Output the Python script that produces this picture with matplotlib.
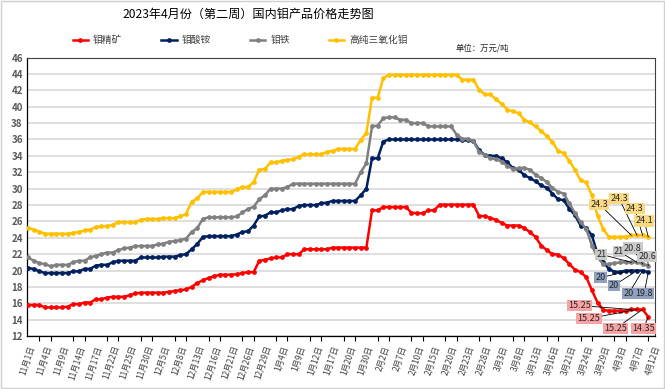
import matplotlib
matplotlib.use("Agg")
import matplotlib.pyplot as plt
from matplotlib.patches import Rectangle

plt.rcParams['font.family'] = ['Noto Sans CJK SC', 'DejaVu Sans']

title = '2023年4月份（第二周）国内钼产品价格走势图'

tick_labels = ['11月1日', '11月4日', '11月9日', '11月14日', '11月17日', '11月22日',
               '11月25日', '11月30日', '12月5日', '12月8日', '12月13日', '12月16日',
               '12月21日', '12月26日', '12月29日', '1月4日', '1月9日', '1月12日',
               '1月17日', '1月20日', '1月30日', '2月2日', '2月7日', '2月10日',
               '2月15日', '2月20日', '2月23日', '2月28日', '3月3日', '3月8日',
               '3月13日', '3月16日', '3月21日', '3月24日', '3月29日', '4月3日',
               '4月7日', '4月12日']

# 钼精矿
ore = [15.8, 15.8, 15.8, 15.5, 15.5, 15.5, 15.5, 15.6, 15.9, 15.9,
       16.1, 16.1, 16.5, 16.5, 16.7, 16.8, 16.8, 16.8, 17.0, 17.2,
       17.3, 17.3, 17.3, 17.3, 17.3, 17.4, 17.5, 17.6, 17.7, 18.0,
       18.5, 18.8, 19.1, 19.3, 19.5, 19.5, 19.5, 19.55, 19.7, 19.8,
       19.8, 21.2, 21.3, 21.5, 21.6, 21.6, 22.0, 22.0, 22.0, 22.6,
       22.6, 22.6, 22.6, 22.6, 22.8, 22.8, 22.8, 22.8, 22.8, 22.8,
       22.8, 27.35, 27.35, 27.75, 27.75, 27.75, 27.75, 27.75, 27.05, 27.0,
       27.0, 27.35, 27.35, 28.05, 28.05, 28.05, 28.05, 28.05, 28.05, 28.05,
       26.65, 26.65, 26.4, 26.2, 25.8, 25.5, 25.5, 25.5, 25.2, 24.7,
       24.1, 23.05, 22.5, 22.0, 21.95, 21.5, 20.8, 20.1, 19.8, 19.2,
       17.6, 16.1, 15.2, 15.1, 15.1, 15.1, 15.1, 15.25, 15.25, 15.25, 14.35]

# 钼酸铵
ammonium = [20.3, 20.2, 19.9, 19.7, 19.7, 19.7, 19.7, 19.7, 19.9, 19.9,
            20.2, 20.2, 20.6, 20.7, 20.7, 21.0, 21.2, 21.2, 21.2, 21.2,
            21.6, 21.6, 21.6, 21.6, 21.7, 21.7, 21.7, 21.9, 22.0, 22.6,
            23.25, 24.1, 24.2, 24.2, 24.2, 24.2, 24.2, 24.4, 24.7, 24.8,
            25.5, 26.6, 26.7, 27.1, 27.1, 27.35, 27.5, 27.5, 27.9, 28.0,
            28.0, 28.0, 28.2, 28.3, 28.5, 28.5, 28.5, 28.5, 28.5, 29.2,
            30.0, 33.7, 33.7, 35.75, 36.0, 36.0, 36.0, 36.0, 36.0, 36.0,
            36.0, 36.0, 36.0, 36.0, 36.0, 36.0, 36.0, 35.9, 35.9, 35.8,
            34.7, 34.1, 34.0, 34.0, 33.7, 33.2, 32.5, 32.3, 31.65, 31.3,
            30.9, 30.4, 30.1, 29.4, 28.7, 28.6, 27.55, 26.75, 25.5, 25.2,
            24.3, 22.0, 21.1, 20.2, 19.85, 19.85, 20.0, 20.0, 20.0, 20.0, 19.8]

# 钼铁
ferro = [21.6, 21.2, 20.9, 20.8, 20.5, 20.7, 20.7, 20.7, 21.0, 21.2,
         21.2, 21.6, 21.8, 22.0, 22.2, 22.2, 22.5, 22.7, 22.8, 23.0,
         23.0, 23.0, 23.0, 23.2, 23.3, 23.5, 23.6, 23.7, 23.9, 24.7,
         25.2, 26.3, 26.5, 26.5, 26.5, 26.5, 26.5, 26.6, 27.1, 27.5,
         27.8, 28.7, 29.2, 30.0, 30.0, 30.0, 30.2, 30.6, 30.6, 30.6,
         30.6, 30.6, 30.6, 30.6, 30.6, 30.6, 30.6, 30.6, 30.6, 32.0,
         33.1, 37.6, 37.7, 38.6, 38.7, 38.7, 38.4, 38.4, 38.0, 38.0,
         38.0, 37.6, 37.6, 37.6, 37.6, 37.6, 36.6, 36.1, 36.1, 35.8,
         34.5, 34.1, 33.7, 33.6, 33.3, 32.8, 32.4, 32.5, 32.55, 32.3,
         31.7, 31.3, 30.8, 30.1, 29.6, 29.4, 28.2, 27.0, 25.9, 25.1,
         23.05, 21.6, 20.8, 20.8, 20.9, 21.0, 21.0, 21.0, 21.0, 20.8, 20.6]

# 高纯三氧化钼
oxide = [25.2, 25.0, 24.75, 24.5, 24.5, 24.5, 24.5, 24.5, 24.6, 24.7,
         24.9, 25.0, 25.3, 25.4, 25.4, 25.6, 25.9, 25.9, 25.9, 25.9,
         26.2, 26.3, 26.3, 26.3, 26.4, 26.4, 26.4, 26.6, 26.9, 28.4,
         28.8, 29.6, 29.6, 29.6, 29.6, 29.6, 29.6, 29.9, 30.2, 30.2,
         30.8, 32.3, 32.4, 33.2, 33.2, 33.4, 33.5, 33.6, 33.9, 34.2,
         34.2, 34.2, 34.2, 34.5, 34.6, 34.85, 34.85, 34.85, 34.85, 35.95,
         36.8, 41.1, 41.1, 43.5, 43.9, 43.9, 43.9, 43.9, 43.9, 43.9,
         43.9, 43.9, 43.9, 43.9, 43.9, 43.9, 43.9, 43.3, 43.3, 43.3,
         42.1, 41.5, 41.5, 40.9, 40.35, 39.65, 39.45, 39.2, 38.4, 38.1,
         37.6, 37.05, 36.4, 35.7, 34.6, 34.3, 33.4, 32.3, 31.0, 30.75,
         29.2, 26.7, 25.1, 24.1, 24.1, 24.1, 24.15, 24.3, 24.3, 24.3, 24.1]

series = [
    ('钼精矿', ore, '#FF0000', '#F7A3A3'),
    ('钼酸铵', ammonium, '#002060', '#8FA0C0'),
    ('钼铁', ferro, '#808080', '#CACACA'),
    ('高纯三氧化钼', oxide, '#FFC000', '#FAD983'),
]

# label offsets (pixels) for the last four points of each line
label_offsets = {
    '钼精矿': [(-52, 4), (-48, -9), (-27, -19), (-5, -12)],
    '钼酸铵': [(-31, -7), (-23, -15), (-14, -23), (-4, -21)],
    '钼铁': [(-30, 8), (-18, 11), (-10, 16), (-1, 9)],
    '高纯三氧化钼': [(-32, 31), (-18, 37), (-8, 27), (-4, 16)],
}

fig = plt.figure(figsize=(6.65, 3.89), dpi=100)
fig.patches.append(Rectangle((0.002, 0.003), 0.996, 0.994, transform=fig.transFigure,
                             fill=False, edgecolor='#D0D0D0', lw=1))
ax = fig.add_axes([0.0406, 0.136, 0.9444, 0.716])

for name, vals, col, boxcol in series:
    xs = list(range(len(vals)))
    ax.plot(xs, vals, color=col, lw=1.8, marker='o', ms=2.4, label=name, zorder=3)
    n = len(vals)
    for k, (dx, dy) in enumerate(label_offsets[name]):
        i = n - 4 + k
        ax.annotate(f'{vals[i]:g}', xy=(i, vals[i]), xytext=(dx, dy),
                    textcoords='offset pixels', ha='center', va='center',
                    fontsize=6.5, color='#262626', zorder=5,
                    bbox=dict(boxstyle='square,pad=0.12', fc=boxcol, ec='none'),
                    arrowprops=dict(arrowstyle='-', color='black', lw=0.6,
                                    shrinkA=0, shrinkB=0))

ax.set_xlim(-0.2, 111.2)
ax.set_ylim(12, 46)
ax.set_yticks(range(12, 47, 2))
ax.grid(axis='y', color='#D9D9D9', lw=1.2)
ax.set_axisbelow(True)
ax.tick_params(axis='y', length=0, labelsize=7, labelcolor='#595959', pad=3)
for t in ax.get_yticklabels():
    t.set_fontweight('bold')

ax.set_xticks(range(0, 112, 3))
ax.set_xticklabels(tick_labels, rotation=72, ha='right', va='top',
                   rotation_mode='anchor', fontsize=6, color='#404040')
ax.set_xticks(range(0, 112, 2), minor=True)
ax.tick_params(axis='x', which='major', length=0, pad=6)
ax.tick_params(axis='x', which='minor', length=3.5, width=0.8, color='black')

for side in ['left', 'bottom']:
    ax.spines[side].set_color('black')
    ax.spines[side].set_linewidth(0.9)
for side in ['top', 'right']:
    ax.spines[side].set_color('#404040')
    ax.spines[side].set_linewidth(0.8)

fig.text(0.373, 0.962, title, ha='center', va='center', fontsize=8.7, color='black')
fig.legend(loc='center', bbox_to_anchor=(0.361, 0.897), ncol=4, frameon=False,
           fontsize=7, handlelength=1.6, columnspacing=4.0, handletextpad=0.5,
           labelcolor='#404040')
fig.text(0.765, 0.877, '单位：万元/吨', ha='right', va='center', fontsize=6, color='#262626')

fig.savefig('out.png', dpi=100)
